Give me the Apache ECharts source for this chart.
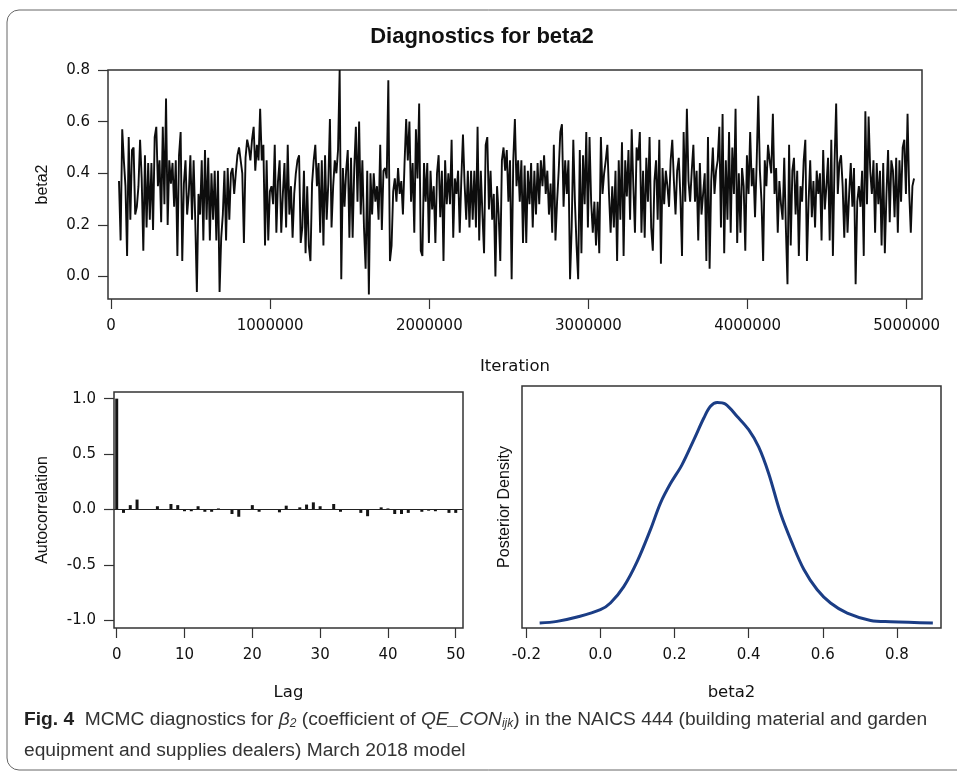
<!DOCTYPE html>
<html>
<head>
<meta charset="utf-8">
<script src="https://cdn.jsdelivr.net/npm/echarts@6/dist/echarts.min.js"></script>
<style>
  html, body { margin: 0; padding: 0; background: #fff; }
  #chart { width: 957px; height: 774px; }
</style>
</head>
<body>
<div id="chart"></div>
<script>
// trace of beta2 in four pieces (left to right)
const traceSeg1 = [0.37,0.14,0.57,0.45,0.35,0.08,0.54,0.22,0.49,0.50,
  0.24,0.27,0.35,0.53,0.38,0.10,0.47,0.19,0.44,0.22,
  0.44,0.18,0.54,0.58,0.35,0.45,0.21,0.58,0.28,0.69,
  0.20,0.45,0.36,0.44,0.27,0.45,0.08,0.47,0.56,0.06,
  0.36,0.45,0.24,0.32,0.47,0.22,0.45,0.22,-0.06,0.32,
  0.24,0.45,0.14,0.49,0.22,0.46,0.14,0.40,0.22,0.41,
  0.14,0.41,-0.06,0.15,0.24,0.41,0.14,0.42,0.22,0.40,
  0.42,0.32,0.40,0.47,0.50,0.45,0.40,0.13,0.46,0.53,
  0.50,0.45,0.53,0.58,0.41,0.51,0.45,0.65,0.45,0.51,
  0.12,0.45,0.14,0.33,0.35,0.28,0.51,0.17,0.37,0.45,
  0.17,0.32,0.44,0.19,0.51,0.24,0.35,0.15,0.32,0.40,
  0.45,0.47,0.13,0.19,0.41,0.09,0.35,0.12,0.06,0.36,
  0.45,0.51,0.35];
const traceSeg2 = [0.44,0.17,0.45,0.12,0.47,0.22,0.36,0.61,0.19,0.35,
  0.45,0.40,0.49,0.80,-0.01,0.42,0.27,0.41,0.49,0.15,
  0.46,0.15,0.42,0.58,0.29,0.60,0.24,0.45,0.19,0.03,
  0.41,-0.07,0.40,0.24,0.40,0.29,0.35,0.22,0.51,0.18,
  0.41,0.42,0.38,0.76,0.06,0.12,0.33,0.38,0.29,0.42,
  0.32,0.37,0.24,0.44,0.61,0.45,0.60,0.29,0.44,0.17,
  0.57,0.38,0.67,0.10,0.08,0.44,0.29,0.44,0.13,0.41,
  0.26,0.35,0.13,0.40,0.47,0.23,0.41,0.06,0.45,0.28,
  0.40,0.28,0.53,0.15,0.38,0.32,0.41,0.17,0.38,0.55,
  0.36,0.22,0.41,0.19,0.41,0.22,0.41,0.19,0.58,0.14,
  0.41,0.24,0.09,0.51,0.54,0.26,0.41,0.22,0.32,0.00,
  0.35,0.24,0.06,0.45,0.50,0.41,0.49,0.29,0.45,-0.01,
  0.45,0.61,0.35,0.45,0.29,0.45];
const traceSeg3 = [0.13,0.43,0.13,0.41,0.28,0.44,0.19,0.41,0.24,0.44,
  0.28,0.45,0.35,0.47,0.32,0.41,0.24,0.36,0.17,0.51,
  0.14,0.29,0.41,0.56,0.59,0.27,0.45,0.32,0.45,-0.01,
  0.19,0.53,0.29,0.12,-0.01,0.49,0.09,0.47,0.28,0.56,
  0.19,0.54,0.29,0.17,0.29,0.12,0.29,0.09,0.54,0.32,
  0.40,0.45,0.51,0.32,0.17,0.35,0.19,0.41,0.06,0.45,
  0.22,0.52,0.08,0.45,0.31,0.49,0.22,0.57,0.35,0.17,
  0.50,0.45,0.56,0.17,0.41,0.15,0.46,0.29,0.54,0.19,
  0.10,0.37,0.45,0.22,0.53,0.05,0.42,0.28,0.41,0.35,
  0.27,0.45,0.53,0.37,0.24,0.41,0.46,0.31,0.08,0.56,
  0.29,0.65,0.37,0.29,0.41,0.51,0.29,0.41,0.14,0.44,
  0.24,0.32,0.40,0.06,0.54,0.03,0.37,0.50,0.32,0.41,
  0.45];
const traceSeg4 = [0.58,0.19,0.63,0.09,0.45,0.22,0.56,0.17,0.50,0.32,
  0.65,0.13,0.40,0.17,0.42,0.35,0.10,0.47,0.32,0.56,
  0.35,0.42,0.23,0.44,0.70,0.41,0.29,0.06,0.45,0.35,
  0.51,0.45,0.40,0.63,0.32,0.42,0.17,0.37,0.28,0.22,
  0.46,0.19,-0.03,0.51,0.12,0.41,0.46,0.24,0.41,0.08,
  0.35,0.29,0.45,0.53,0.06,0.29,0.45,0.23,0.37,0.19,
  0.41,0.32,0.40,0.14,0.49,0.26,0.35,0.46,0.14,0.53,
  0.08,0.44,0.67,0.32,0.44,0.47,0.35,0.15,0.38,0.17,
  0.32,0.44,0.27,0.42,-0.03,0.29,0.35,0.27,0.41,0.08,
  0.64,0.28,0.62,0.41,0.32,0.45,0.17,0.44,0.28,0.41,
  0.12,0.44,0.09,0.32,0.49,0.21,0.45,0.41,0.23,0.46,
  0.17,0.45,0.29,0.50,0.53,0.32,0.63,0.33,0.17,0.35,
  0.38];
const firstIter = 50000;
const lastIter = 5046000;
const iterTicks = [0, 1000000, 2000000, 3000000, 4000000, 5000000];
const traceTicks = [0, 0.2, 0.4, 0.6, 0.8];

// autocorrelation by lag 0..50
const acfVals = [1.0,-0.03,0.04,0.09,0,0,0.03,0,0.05,0.04,
  -0.015,-0.015,0.03,-0.02,-0.02,0.01,0,-0.04,-0.065,0,
  0.04,-0.02,0,0,-0.025,0.035,0,0.02,0.045,0.065,
  0.03,0,0.05,-0.02,0,0,-0.03,-0.06,0,0.02,
  0.01,-0.04,-0.04,-0.03,0.005,-0.02,-0.01,-0.015,0,-0.03,
  -0.03];
const lagTicks = [0, 10, 20, 30, 40, 50];
const acfTicks = [-1, -0.5, 0, 0.5, 1];

// posterior density curve
const densBeta = [-0.164,-0.117,-0.063,0.0,0.027,0.063,0.099,0.135,0.162,0.189,
  0.22,0.252,0.279,0.297,0.315,0.337,0.369,0.40,0.427,0.454,
  0.486,0.517,0.549,0.585,0.621,0.666,0.729,0.783,0.897];
const densVals = [0.064,0.085,0.14,0.234,0.32,0.53,0.85,1.26,1.60,1.85,
  2.09,2.41,2.69,2.84,2.89,2.87,2.71,2.54,2.32,1.98,
  1.47,1.09,0.75,0.49,0.32,0.19,0.097,0.08,0.064];
const densTicks = [-0.2, 0, 0.2, 0.4, 0.6, 0.8];

const trace = traceSeg1.concat(traceSeg2, traceSeg3, traceSeg4);
const step = (lastIter - firstIter) / (trace.length - 1);
const traceData = trace.map((v, i) => [firstIter + i * step, v]);
const acfData = acfVals.map((v, i) => [i, v]);
const densData = densBeta.map((b, i) => [b, densVals[i]]);

const ink = '#111';
const boxCol = '#333';
const capFont = 'Liberation Sans';
const capSize = 19.2;
const tickFont = { fontFamily: 'DejaVu Sans', fontSize: 15, color: ink };
const xNameFont = { fontFamily: 'DejaVu Sans', fontSize: 16.5, color: ink };
const yNameFont = { fontFamily: 'Liberation Sans', fontSize: 16, color: ink };

function xAx(grid, min, max, ticks, fmt, name, gap) {
  return {
    type: 'value', gridIndex: grid, min: min, max: max,
    axisLine: { show: false, onZero: false },
    axisTick: { show: true, length: 10, customValues: ticks, lineStyle: { color: boxCol, width: 1.2 } },
    axisLabel: Object.assign({ customValues: ticks, formatter: fmt, margin: 20 }, tickFont),
    splitLine: { show: false },
    name: name, nameLocation: 'middle', nameGap: gap, nameTextStyle: xNameFont
  };
}
function yAx(grid, min, max, ticks, name, gap) {
  return {
    type: 'value', gridIndex: grid, min: min, max: max,
    axisLine: { show: false, onZero: false },
    axisTick: { show: ticks.length > 0, length: 10, customValues: ticks, lineStyle: { color: boxCol, width: 1.2 } },
    axisLabel: Object.assign({ show: ticks.length > 0, customValues: ticks, formatter: v => v.toFixed(1), margin: 18 }, tickFont),
    splitLine: { show: false },
    name: name, nameLocation: 'middle', nameGap: gap, nameTextStyle: yNameFont
  };
}
const boxGrid = { show: true, borderColor: boxCol, borderWidth: 1.5, backgroundColor: 'transparent' };

const chart = echarts.init(document.getElementById('chart'));
const option = {
  animation: false,
  backgroundColor: '#fff',
  grid: [
    Object.assign({ left: 108, top: 70, width: 814, height: 229 }, boxGrid),
    Object.assign({ left: 114, top: 392, width: 349, height: 236 }, boxGrid),
    Object.assign({ left: 522, top: 386, width: 419, height: 242 }, boxGrid)
  ],
  xAxis: [
    xAx(0, -19000, 5096000, iterTicks, v => String(v), 'Iteration', 59),
    xAx(1, -0.4, 51.07, lagTicks, v => String(v), 'Lag', 56),
    xAx(2, -0.2116, 0.919, densTicks, v => v.toFixed(1), 'beta2', 56)
  ],
  yAxis: [
    yAx(0, -0.087, 0.8, traceTicks, 'beta2', 57),
    yAx(1, -1.068, 1.06, acfTicks, 'Autocorrelation', 63),
    yAx(2, 0, 3.1, [], 'Posterior Density', 9)
  ],
  series: [
    {
      type: 'line', xAxisIndex: 0, yAxisIndex: 0, data: traceData,
      showSymbol: false, lineStyle: { color: '#0d0d0d', width: 1.9 }, silent: true
    },
    {
      type: 'bar', xAxisIndex: 1, yAxisIndex: 1, data: acfData,
      barWidth: 3, itemStyle: { color: '#141414' }, silent: true,
      markLine: {
        silent: true, symbol: ['none', 'none'], label: { show: false },
        lineStyle: { color: '#222', width: 1, type: 'solid' },
        data: [{ yAxis: 0 }]
      }
    },
    {
      type: 'line', xAxisIndex: 2, yAxisIndex: 2, data: densData,
      smooth: 0.35, showSymbol: false, lineStyle: { color: '#1b3d85', width: 3 }, silent: true
    }
  ],
  graphic: [
    {
      type: 'rect', shape: { x: 7, y: 10, width: 1000, height: 760, r: 12 },
      style: { fill: 'none', stroke: '#666', lineWidth: 1 }, silent: true
    },
    {
      type: 'text', x: 482, y: 37,
      style: {
        text: 'Diagnostics for beta2', align: 'center', verticalAlign: 'middle',
        fontFamily: 'Liberation Sans', fontWeight: 'bold', fontSize: 22, fill: ink
      }
    },
    {
      type: 'text', x: 24, y: 720,
      style: {
        text: '{b|Fig. 4}  {n|MCMC diagnostics for }{i|β}{s|2}{n| (coefficient of }{i|QE_CON}{s|ijk}{n|) in the NAICS 444 (building material and garden}',
        fontFamily: capFont, fontSize: capSize, fill: '#222', verticalAlign: 'middle',
        rich: {
          b: { fontFamily: capFont, fontWeight: 'bold', fontSize: capSize, fill: '#222' },
          n: { fontFamily: capFont, fontSize: capSize, fill: '#333' },
          i: { fontFamily: capFont, fontStyle: 'italic', fontSize: capSize, fill: '#333' },
          s: { fontFamily: capFont, fontStyle: 'italic', fontSize: 12, fill: '#333', verticalAlign: 'bottom', padding: [7, 0, 0, 0] }
        }
      }
    },
    {
      type: 'text', x: 24, y: 751,
      style: {
        text: 'equipment and supplies dealers) March 2018 model', verticalAlign: 'middle',
        fontFamily: capFont, fontSize: capSize, fill: '#333'
      }
    }
  ]
};
chart.setOption(option);
</script>
</body>
</html>
